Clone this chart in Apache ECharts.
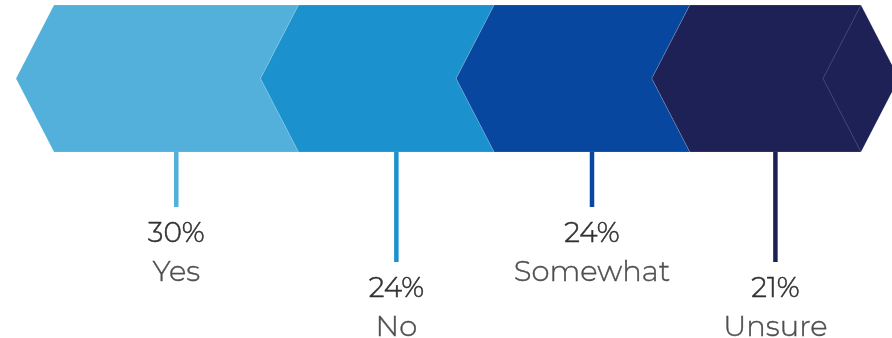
<!DOCTYPE html>
<html><head><meta charset="utf-8">
<script src="https://cdn.jsdelivr.net/npm/echarts@6/dist/echarts.min.js"></script>
<style>html,body{margin:0;padding:0;background:#fff}#c{width:892px;height:338px}</style>
</head><body><div id="c"></div>
<script>
const categories = ['Yes', 'No', 'Somewhat', 'Unsure'];
const values = [30, 24, 24, 21];
const valueLabels = ['30%', '24%', '24%', '21%'];
const colors = ['#52B0DA', '#1B92CD', '#0747A0', '#1D2156'];

const total = values.reduce((a, b) => a + b, 0);
let acc = 0;
const segData = values.map((v, i) => { const s = acc; acc += v; return [s, acc, i]; });

const FONT = "Montserrat, 'DejaVu Sans', sans-serif";
const chart = echarts.init(document.getElementById('c'), null, { renderer: 'canvas' });
chart.setOption({
  animation: false,
  grid: { left: 54, right: 31, top: 5, bottom: 186 },
  xAxis: { type: 'value', min: 0, max: total, show: false },
  yAxis: { type: 'value', min: 0, max: 1, show: false },
  series: [{
    type: 'custom',
    clip: false,
    data: segData,
    renderItem: function (params, api) {
      const s = api.value(0), e = api.value(1), i = api.value(2);
      const a = api.coord([s, 1]), b = api.coord([e, 0]);
      const x0 = a[0], x1 = b[0], yT = a[1], yB = b[1], yM = (yT + yB) / 2;
      const d = 38;
      const last = i === values.length - 1;
      const pts = [[x0, yT], [x1, yT], [last ? x1 + d : x1 - d, yM], [x1, yB], [x0, yB], [x0 - d, yM]];
      const cx = (x0 + x1) / 2;
      const len = i % 2 ? 110 : 55;
      const children = [
        { type: 'polygon', shape: { points: pts }, style: { fill: colors[i], stroke: 'rgba(255,255,255,0.18)', lineWidth: 0.8 } }
      ];
      if (last) {
        children.push({ type: 'polyline', shape: { points: [[x1, yT], [x1 - d, yM], [x1, yB]] }, style: { fill: null, stroke: 'rgba(255,255,255,0.22)', lineWidth: 0.8 } });
      }
      children.push({ type: 'line', shape: { x1: cx, y1: yB, x2: cx, y2: yB + len }, style: { stroke: colors[i], lineWidth: 4.5 } });
      children.push({ type: 'text', style: { x: cx, y: yB + len + 27, text: valueLabels[i], fill: '#303030', stroke: '#303030', lineWidth: 0.5, font: '300 28px ' + FONT, textAlign: 'center', textVerticalAlign: 'middle' } });
      children.push({ type: 'text', style: { x: cx, y: yB + len + 65, text: categories[i], fill: '#4e4e4e', stroke: '#4e4e4e', lineWidth: 0.4, font: '300 29px ' + FONT, textAlign: 'center', textVerticalAlign: 'middle' } });
      return { type: 'group', children: children };
    }
  }]
});
</script></body></html>
